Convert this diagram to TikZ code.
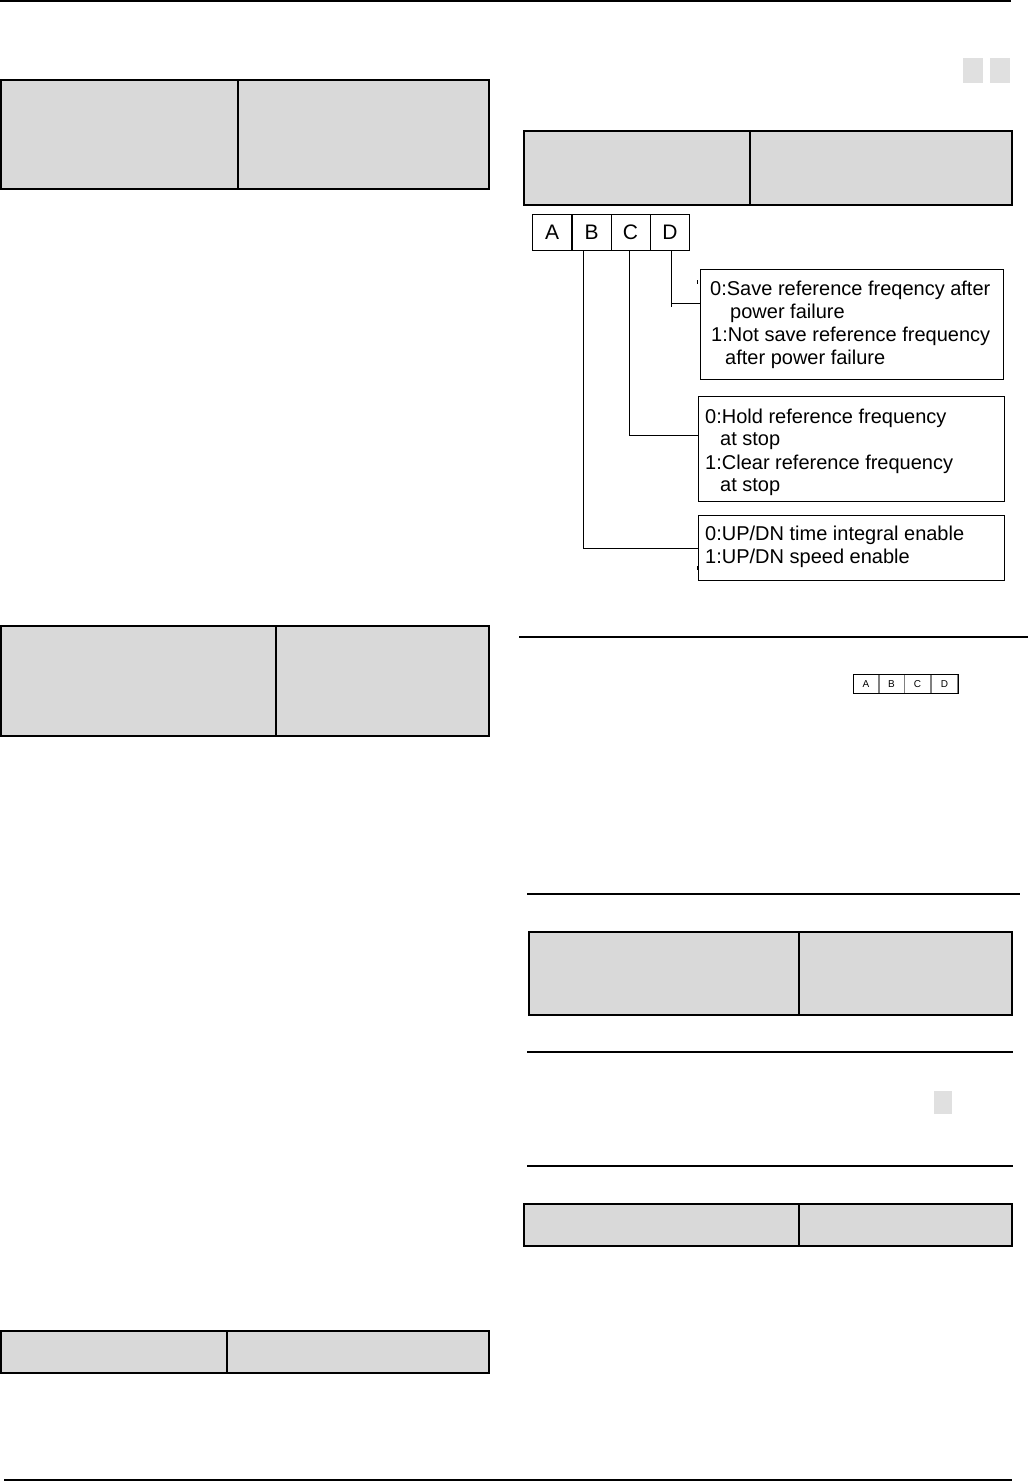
\documentclass[tikz,border=0pt]{standalone}
\usepackage{fontspec}
\setmainfont{Liberation Sans}
\begin{document}
\begin{tikzpicture}[x=1pt,y=-1pt,
  tbl/.style={fill=cellgray,draw=black,line width=2.5pt},
  divl/.style={line width=1.5pt},
  rule/.style={line width=1.5pt},
  bitbox/.style={draw=black,line width=0.9pt,minimum width=39pt,minimum height=36pt,inner sep=0pt,font=\fontsize{21}{21}\selectfont},
  optbox/.style={draw=black,line width=1pt,inner sep=0pt},
  opt/.style={anchor=west,inner sep=0pt,font=\fontsize{20}{20}\selectfont},
  conn/.style={line width=1pt},
  sbit/.style={draw=gray,line width=0.7pt,minimum width=26pt,minimum height=19pt,inner sep=0pt,font=\fontsize{10}{10}\selectfont},
  sq/.style={fill=sqgray,draw=none}]
\definecolor{cellgray}{HTML}{D9D9D9}
\definecolor{sqgray}{HTML}{E0E0E0}
\useasboundingbox (0,0) rectangle (1028,1482);
\fill[white] (0,0) rectangle (1028,1482);
% page rules
\draw[rule] (0,1) -- (1011,1);
\draw[line width=2.5pt] (4,1480) -- (1012,1480);
% left tables
\draw[tbl] (1,80) rectangle (489,189);
\draw[divl] (238,80) -- (238,189);
\draw[tbl] (1,626) rectangle (489,736);
\draw[divl] (276,626) -- (276,736);
\draw[tbl] (1,1331) rectangle (489,1373);
\draw[line width=2pt] (227,1331) -- (227,1373);
% right side
\fill[sq] (963,58) rectangle (983,83);
\fill[sq] (990,58) rectangle (1010,83);
\draw[tbl] (524,131) rectangle (1012,205);
\draw[divl] (750,131) -- (750,205);
% bit boxes
\node[bitbox] (A) at (552,232) {A};
\node[bitbox] (B) at (591.5,232) {B};
\node[bitbox] (C) at (630.5,232) {C};
\node[bitbox] (D) at (670,232) {D};
% option boxes
\node[optbox,minimum width=303pt,minimum height=110pt] (boxD) at (851.5,324) {};
\node[optbox,minimum width=306pt,minimum height=105pt] (boxC) at (851,448.5) {};
\node[optbox,minimum width=306pt,minimum height=65pt] (boxB) at (851,547.5) {};
\node[opt] (d1) at (710,290) {0:Save reference freqency after};
\node[opt] (d2) at (730,313) {power failure};
\node[opt] (d3) at (711,336) {1:Not save reference frequency};
\node[opt] (d4) at (725,359) {after power failure};
\node[opt] (c1) at (705,418) {0:Hold reference frequency};
\node[opt] (c2) at (720,441) {at stop};
\node[opt] (c3) at (705,464) {1:Clear reference frequency};
\node[opt] (c4) at (720,487) {at stop};
\node[opt] (b1) at (705,535) {0:UP/DN time integral enable};
\node[opt] (b2) at (705,558) {1:UP/DN speed enable};
% connectors
\coordinate (dT) at (671,307);
\draw[conn] (D.south -| dT) -- (dT);
\draw[conn] (671,303) -- (boxD.west |- 0,303);
\draw[conn] (C.south -| 629,0) |- (boxC.west |- 0,435);
\draw[conn] (B.south -| 583,0) |- (boxB.west |- 0,548);
% small marks
\draw[line width=0.6pt] (697,280) -- (697,284);
\draw[line width=0.6pt] (697,566) -- (697,570);
% middle rule
\draw[rule] (519,637) -- (1028,637);
% small bit boxes
\node[sbit] (sA) at (866,684) {A};
\node[sbit] (sB) at (891.5,684) {B};
\node[sbit] (sC) at (917.5,684) {C};
\node[sbit] (sD) at (944.5,684) {D};
\draw[line width=0.9pt] (853,674.5) rectangle (958,693.5);
% lower right
\draw[rule] (527,894) -- (1020,894);
\draw[tbl] (529,932) rectangle (1012,1015);
\draw[divl] (799,932) -- (799,1015);
\draw[rule] (527,1052) -- (1013,1052);
\fill[sq] (934,1091) rectangle (952,1114);
\draw[rule] (527,1166) -- (1013,1166);
\draw[tbl] (524,1204) rectangle (1012,1246);
\draw[divl] (799,1204) -- (799,1246);
\end{tikzpicture}
\end{document}
